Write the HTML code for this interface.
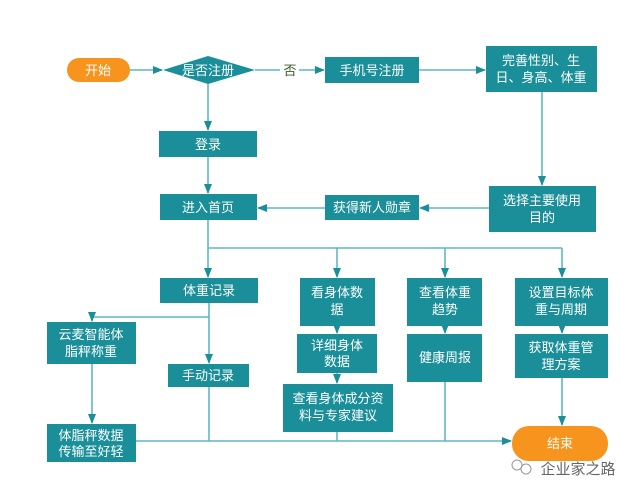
<!DOCTYPE html>
<html><head><meta charset="utf-8"><style>
body{margin:0;width:640px;height:496px;background:#fff;overflow:hidden;}
svg{display:block}
text{font-family:"Liberation Sans","Noto Sans CJK SC",sans-serif;font-size:13px;fill:#fff;text-anchor:middle;}
</style></head><body>
<svg width="640" height="496" viewBox="0 0 640 496">
<defs><marker id="a" markerWidth="10" markerHeight="10" refX="9" refY="5" orient="auto" markerUnits="userSpaceOnUse"><path d="M0,1 L10,5 L0,9 Z" fill="#1a8f9a"/></marker></defs>
<g stroke="#5fb8c2" stroke-width="1.6" fill="none">
<line x1="130" y1="70" x2="162" y2="70" marker-end="url(#a)"/>
<line x1="255" y1="70" x2="280" y2="70"/>
<line x1="299" y1="70" x2="324" y2="70" marker-end="url(#a)"/>
<line x1="419" y1="70" x2="485" y2="70" marker-end="url(#a)"/>
<line x1="208" y1="84" x2="208" y2="130" marker-end="url(#a)"/>
<line x1="208" y1="157" x2="208" y2="193" marker-end="url(#a)"/>
<line x1="542" y1="92" x2="542" y2="185" marker-end="url(#a)"/>
<line x1="489" y1="208" x2="420" y2="208" marker-end="url(#a)"/>
<line x1="325" y1="208" x2="258" y2="208" marker-end="url(#a)"/>
<polyline points="208,220 208,248 562,248"/>
<line x1="208" y1="248" x2="208" y2="277" marker-end="url(#a)"/>
<line x1="337" y1="248" x2="337" y2="277" marker-end="url(#a)"/>
<line x1="445" y1="248" x2="445" y2="277" marker-end="url(#a)"/>
<line x1="562" y1="248" x2="562" y2="277" marker-end="url(#a)"/>
<polyline points="209,303 209,317 92,317 92,321" marker-end="url(#a)"/>
<line x1="209" y1="317" x2="209" y2="363" marker-end="url(#a)"/>
<line x1="92" y1="364" x2="92" y2="423" marker-end="url(#a)"/>
<line x1="337" y1="326" x2="337" y2="333" marker-end="url(#a)"/>
<line x1="337" y1="373" x2="337" y2="383" marker-end="url(#a)"/>
<line x1="445" y1="326" x2="445" y2="333" marker-end="url(#a)"/>
<line x1="562" y1="326" x2="562" y2="333" marker-end="url(#a)"/>
<line x1="562" y1="378" x2="562" y2="425" marker-end="url(#a)"/>
<line x1="136" y1="441" x2="511" y2="441" marker-end="url(#a)"/>
<line x1="209" y1="387" x2="209" y2="441"/>
<line x1="337" y1="432" x2="337" y2="441"/>
<line x1="445" y1="382" x2="445" y2="441"/>
</g>
<text x="290" y="75" style="fill:#3a5a2a">否</text>
<g fill="#1a8f9a">
<rect x="67" y="58" width="63" height="24" rx="12" fill="#f7941d"/>
<polygon points="163,70 208,56 255,70 208,84"/>
<rect x="325" y="57" width="94" height="26"/>
<rect x="486" y="46" width="111" height="46"/>
<rect x="159" y="131" width="98" height="26"/>
<rect x="160" y="194" width="97" height="26"/>
<rect x="325" y="195" width="94" height="25"/>
<rect x="489" y="186" width="107" height="46"/>
<rect x="160" y="278" width="98" height="25"/>
<rect x="300" y="278" width="75" height="48"/>
<rect x="407" y="278" width="75" height="48"/>
<rect x="515" y="278" width="93" height="48"/>
<rect x="47" y="322" width="89" height="42"/>
<rect x="168" y="364" width="81" height="23"/>
<rect x="297" y="334" width="80" height="39"/>
<rect x="407" y="334" width="75" height="48"/>
<rect x="515" y="334" width="93" height="44"/>
<rect x="283" y="384" width="110" height="48"/>
<rect x="47" y="424" width="89" height="38"/>
<rect x="512" y="426" width="96" height="35" rx="17" fill="#f7941d"/>
</g>
<text x="98" y="75">开始</text>
<text x="208" y="75">是否注册</text>
<text x="372" y="75">手机号注册</text>
<text x="541" y="65">完善性别、生</text><text x="541" y="82">日、身高、体重</text>
<text x="208" y="149">登录</text>
<text x="208" y="212">进入首页</text>
<text x="372" y="212">获得新人勋章</text>
<text x="542" y="205">选择主要使用</text><text x="542" y="222">目的</text>
<text x="209" y="295">体重记录</text>
<text x="337" y="297">看身体数</text><text x="337" y="314">据</text>
<text x="445" y="297">查看体重</text><text x="445" y="314">趋势</text>
<text x="561" y="297">设置目标体</text><text x="561" y="314">重与周期</text>
<text x="91" y="339">云麦智能体</text><text x="91" y="356">脂秤称重</text>
<text x="208" y="380">手动记录</text>
<text x="337" y="350">详细身体</text><text x="337" y="366">数据</text>
<text x="445" y="362">健康周报</text>
<text x="561" y="352">获取体重管</text><text x="561" y="369">理方案</text>
<text x="338" y="403">查看身体成分资</text><text x="338" y="420">料与专家建议</text>
<text x="91" y="440">体脂秤数据</text><text x="91" y="456">传输至好轻</text>
<text x="560" y="448">结束</text>
<circle cx="517" cy="465" r="5" fill="none" stroke="#999"/>
<circle cx="526" cy="469" r="5" fill="none" stroke="#999"/>
<text x="578" y="474" style="fill:#666;font-size:15px">企业家之路</text>
</svg>
</body></html>
